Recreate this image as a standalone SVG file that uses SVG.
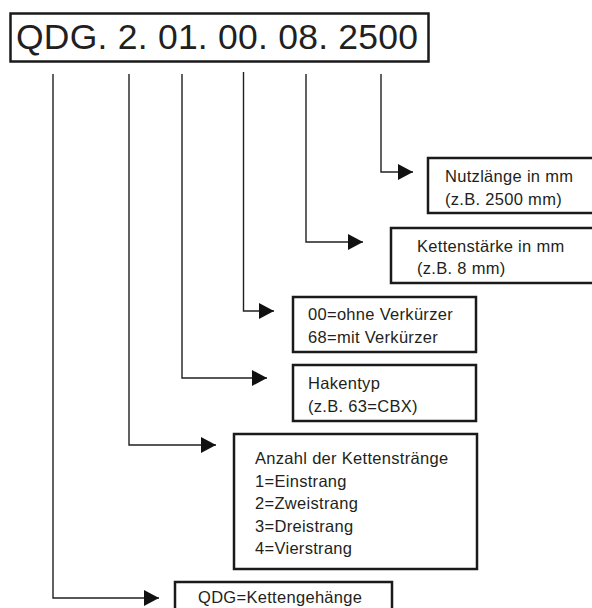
<svg xmlns="http://www.w3.org/2000/svg" width="592" height="608" viewBox="0 0 592 608">
<defs>
<style>
.box{fill:#fff;stroke:#1a1a1a;stroke-width:2.5}
.t{font-family:"Liberation Sans",Arial,Helvetica,sans-serif;font-size:16.5px;fill:#231f20;letter-spacing:0.3px}
.ln{fill:none;stroke:#231f20;stroke-width:1.4}
</style>
<marker id="ah" markerUnits="userSpaceOnUse" markerWidth="16" markerHeight="16" refX="15" refY="8" orient="auto">
<path d="M0,0 L15,8 L0,16 Z" fill="#111"/>
</marker>
</defs>
<rect width="592" height="608" fill="#fff"/>
<g id="code">
<rect class="box" x="10.5" y="13.5" width="418" height="48" stroke-width="2"/>
<text x="16" y="49" font-family="'Liberation Sans',Arial,Helvetica,sans-serif" font-size="35.5" fill="#231f20" textLength="402" lengthAdjust="spacing">QDG. 2. 01. 00. 08. 2500</text>
</g>
<g id="connectors">
<path class="ln" d="M381,74 V172 H413" marker-end="url(#ah)"/>
<path class="ln" d="M306,74 V242 H363" marker-end="url(#ah)"/>
<path class="ln" d="M243.5,72 V311 H274" marker-end="url(#ah)"/>
<path class="ln" d="M182,74 V378 H267" marker-end="url(#ah)"/>
<path class="ln" d="M129,74 V445 H216" marker-end="url(#ah)"/>
<path class="ln" d="M53,74 V598 H159" marker-end="url(#ah)"/>
</g>
<g id="n-nutzlaenge">
<rect class="box" x="428" y="158" width="170" height="55"/>
<text class="t" x="445" y="182">Nutzlänge in mm</text>
<text class="t" x="445" y="205">(z.B. 2500 mm)</text>
</g>
<g id="n-kettenstaerke">
<rect class="box" x="391" y="228" width="207" height="55"/>
<text class="t" x="417" y="252">Kettenstärke in mm</text>
<text class="t" x="417" y="274">(z.B. 8 mm)</text>
</g>
<g id="n-verkuerzer">
<rect class="box" x="293" y="297" width="183" height="55"/>
<text class="t" x="308" y="320">00=ohne Verkürzer</text>
<text class="t" x="308" y="343">68=mit Verkürzer</text>
</g>
<g id="n-hakentyp">
<rect class="box" x="293" y="365" width="183" height="56"/>
<text class="t" x="308" y="389">Hakentyp</text>
<text class="t" x="308" y="412">(z.B. 63=CBX)</text>
</g>
<g id="n-anzahl">
<rect class="box" x="234" y="434" width="243" height="135"/>
<text class="t" x="255" y="464">Anzahl der Kettenstränge</text>
<text class="t" x="255" y="487">1=Einstrang</text>
<text class="t" x="255" y="509">2=Zweistrang</text>
<text class="t" x="255" y="532">3=Dreistrang</text>
<text class="t" x="255" y="554">4=Vierstrang</text>
</g>
<g id="n-qdg">
<rect class="box" x="175" y="582" width="217" height="40"/>
<text class="t" x="198" y="603">QDG=Kettengehänge</text>
</g>
</svg>
